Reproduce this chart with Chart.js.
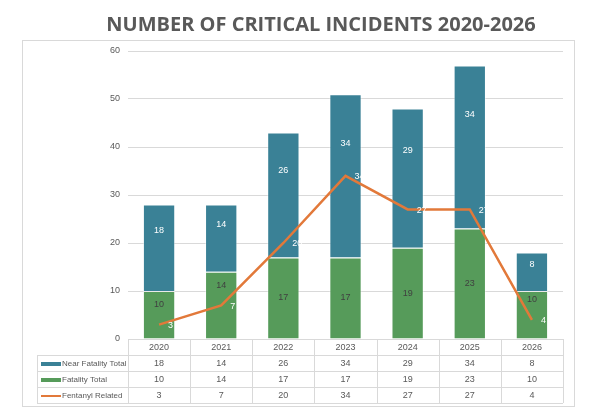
<!DOCTYPE html>
<html>
<head>
<meta charset="utf-8">
<script src="https://cdn.jsdelivr.net/npm/chart.js@4.4.1/dist/chart.umd.min.js"></script>
<style>
html, body { margin: 0; padding: 0; background: #fff; }
#wrap { width: 600px; height: 408px; }
</style>
</head>
<body>
<div id="wrap"><canvas id="chart"></canvas></div>
<script>
const years = ['2020', '2021', '2022', '2023', '2024', '2025', '2026'];
const nearFatality = [18, 14, 26, 34, 29, 34, 8];
const fatality = [10, 14, 17, 17, 19, 23, 10];
const fentanyl = [3, 7, 20, 34, 27, 27, 4];
const yMin = 0, yMax = 60, yStep = 10;

const TEAL = '#3a8196';
const GREEN = '#569b5a';
const ORANGE = '#e2793a';
const GRAY_TEXT = '#595959';
const GRID = '#d9d9d9';
const LABEL_FONT = '9px "Liberation Sans", Arial, sans-serif';

// table rows shown under the plot, same order as the reference
const tableRows = [
    { label: 'Near Fatality Total', values: nearFatality, color: TEAL, key: 'bar' },
    { label: 'Fatality Total', values: fatality, color: GREEN, key: 'bar' },
    { label: 'Fentanyl Related', values: fentanyl, color: ORANGE, key: 'line' }
];

// bar labels: upper segment sits a bit above its middle,
// lower segment is centred unless the line label is in the way
const valueLabels = {
    id: 'valueLabels',
    afterDatasetsDraw(chart) {
        const ctx = chart.ctx;
        const lineMeta = chart.getDatasetMeta(0);
        ctx.save();
        ctx.font = LABEL_FONT;
        ctx.textBaseline = 'middle';
        chart.data.datasets.forEach((ds, di) => {
            const meta = chart.getDatasetMeta(di);
            meta.data.forEach((el, i) => {
                const v = ds.data[i];
                if (ds.type === 'line') {
                    ctx.fillStyle = '#ffffff';
                    ctx.textAlign = 'left';
                    ctx.fillText(v, el.x + 9, el.y + 1);
                    return;
                }
                let y;
                if (ds.labelPos === 'upper') {
                    y = el.base + (el.y - el.base) * 0.7;
                } else {
                    y = (el.y + el.base) / 2;
                    const ly = lineMeta.data[i].y;
                    if (Math.abs(y - ly) < 14) y = ly - 20;
                }
                ctx.fillStyle = ds.labelColor;
                ctx.textAlign = 'center';
                ctx.fillText(v, el.x, y);
            });
        });
        ctx.restore();
    }
};

const dataTable = {
    id: 'dataTable',
    afterDraw(chart) {
        const ctx = chart.ctx;
        const area = chart.chartArea;
        const xs = chart.scales.x;
        const colW = (area.right - area.left) / years.length;
        const top = area.bottom;
        const rowH = 16;
        const tableLeft = 37;
        ctx.save();
        ctx.strokeStyle = GRID;
        ctx.lineWidth = 1;

        // outer frame
        ctx.strokeRect(22.5, 40.5, 552, 366);

        for (let r = 1; r <= tableRows.length + 1; r++) {
            const y = Math.round(top + r * rowH) + 0.5;
            ctx.beginPath();
            ctx.moveTo(tableLeft, y);
            ctx.lineTo(area.right, y);
            ctx.stroke();
        }
        for (let c = 0; c <= years.length; c++) {
            const x = Math.round(area.left + c * colW) + 0.5;
            ctx.beginPath();
            ctx.moveTo(x, top);
            ctx.lineTo(x, top + (tableRows.length + 1) * rowH);
            ctx.stroke();
        }
        ctx.beginPath();
        ctx.moveTo(tableLeft + 0.5, top + rowH);
        ctx.lineTo(tableLeft + 0.5, top + (tableRows.length + 1) * rowH);
        ctx.stroke();

        ctx.fillStyle = GRAY_TEXT;
        ctx.textBaseline = 'middle';
        ctx.textAlign = 'center';
        ctx.font = LABEL_FONT;
        years.forEach((yr, i) => {
            ctx.fillText(yr, xs.getPixelForValue(i), top + rowH / 2 + 1);
        });

        tableRows.forEach((row, r) => {
            const cy = top + (r + 1) * rowH + rowH / 2 + 1;
            ctx.fillStyle = row.color;
            if (row.key === 'bar') {
                ctx.fillRect(41, cy - 2, 20, 4);
            } else {
                ctx.fillRect(41, cy - 1, 20, 2);
            }
            ctx.fillStyle = GRAY_TEXT;
            ctx.textAlign = 'left';
            ctx.font = '8px "Liberation Sans Narrow", "Liberation Sans", Arial, sans-serif';
            ctx.fillText(row.label, 62, cy);
            ctx.textAlign = 'center';
            ctx.font = LABEL_FONT;
            row.values.forEach((v, i) => {
                ctx.fillText(v, xs.getPixelForValue(i), cy);
            });
        });
        ctx.restore();
    }
};

new Chart(document.getElementById('chart'), {
    data: {
        labels: years,
        datasets: [
            {
                type: 'line',
                label: 'Fentanyl Related',
                data: fentanyl,
                borderColor: ORANGE,
                borderWidth: 2.5,
                pointRadius: 0,
                tension: 0,
                stack: 'fent',
                order: 0
            },
            {
                type: 'bar',
                label: 'Fatality Total',
                data: fatality,
                backgroundColor: GREEN,
                borderColor: 'rgba(255,255,255,0.45)',
                borderWidth: 1,
                barPercentage: 0.52,
                categoryPercentage: 1,
                stack: 'incidents',
                labelColor: '#404040',
                labelPos: 'lower',
                order: 1
            },
            {
                type: 'bar',
                label: 'Near Fatality Total',
                data: nearFatality,
                backgroundColor: TEAL,
                borderColor: 'rgba(255,255,255,0.45)',
                borderWidth: 1,
                barPercentage: 0.52,
                categoryPercentage: 1,
                stack: 'incidents',
                labelColor: '#ffffff',
                labelPos: 'upper',
                order: 2
            }
        ]
    },
    options: {
        responsive: true,
        maintainAspectRatio: false,
        animation: false,
        layout: { padding: { left: 79, right: 37, top: 0, bottom: 69 } },
        plugins: {
            legend: { display: false },
            tooltip: { enabled: false },
            title: {
                display: true,
                text: 'NUMBER OF CRITICAL INCIDENTS 2020-2026',
                color: GRAY_TEXT,
                font: { family: '"Open Sans", sans-serif', size: 20, weight: 'bold' },
                padding: { top: 13, bottom: 14 }
            }
        },
        scales: {
            x: { stacked: true, display: false },
            y: {
                stacked: true,
                min: yMin,
                max: yMax,
                ticks: {
                    stepSize: yStep,
                    color: GRAY_TEXT,
                    padding: 8,
                    font: { family: '"Liberation Sans", Arial, sans-serif', size: 9 }
                },
                grid: { color: GRID, drawTicks: false },
                border: { display: false },
                afterFit(scale) { scale.width = 49; }
            }
        }
    },
    plugins: [valueLabels, dataTable]
});
</script>
</body>
</html>
